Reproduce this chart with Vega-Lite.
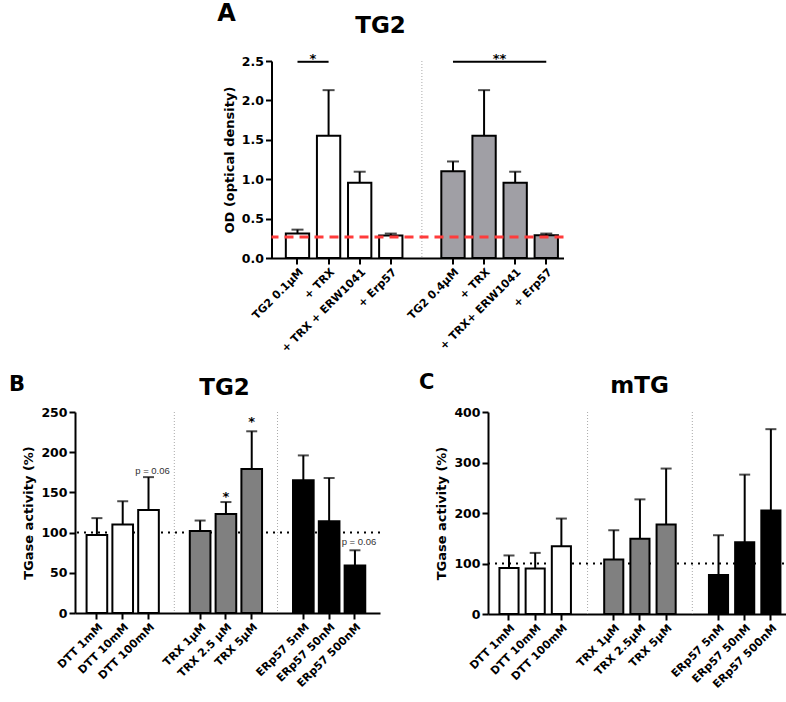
{
  "$schema": "https://vega.github.io/schema/vega-lite/v6.json",
  "background": "white",
  "padding": {"left": 8, "top": 2, "right": 2, "bottom": 2},
  "datasets": {
    "A": [
      {"cond": "TG2 0.1µM", "grp": "w", "v": 0.31, "e": 0.36},
      {"cond": "+ TRX", "grp": "w", "v": 1.55, "e": 2.13},
      {"cond": "+ TRX + ERW1041", "grp": "w", "v": 0.955, "e": 1.095},
      {"cond": "+ Erp57", "grp": "w", "v": 0.287, "e": 0.31},
      {"cond": "TG2 0.4µM", "grp": "g", "v": 1.10, "e": 1.225},
      {"cond": "+ TRX ", "grp": "g", "v": 1.55, "e": 2.13},
      {"cond": "+ TRX+ ERW1041", "grp": "g", "v": 0.955, "e": 1.095},
      {"cond": "+ Erp57 ", "grp": "g", "v": 0.29, "e": 0.31}
    ],
    "gapsA": [{"cond": "gapA"}],
    "refA": [{"od": 0.266}],
    "sigA": [
      {"from": "TG2 0.1µM", "to": "+ TRX", "y": 2.49, "at": "TG2 0.1µM", "lab": "*", "ty": 2.47},
      {"from": "TG2 0.4µM", "to": "+ Erp57 ", "y": 2.49, "at": "+ TRX ", "lab": "**", "ty": 2.47}
    ],
    "B": [
      {"cond": "DTT 1mM", "grp": "DTT", "v": 97, "e": 118},
      {"cond": "DTT 10mM", "grp": "DTT", "v": 110, "e": 139},
      {"cond": "DTT 100mM", "grp": "DTT", "v": 128, "e": 169},
      {"cond": "TRX 1µM", "grp": "TRX", "v": 102, "e": 115},
      {"cond": "TRX 2.5 µM", "grp": "TRX", "v": 123, "e": 138},
      {"cond": "TRX 5µM", "grp": "TRX", "v": 179, "e": 226},
      {"cond": "ERp57 5nM", "grp": "ERp57", "v": 165, "e": 196},
      {"cond": "ERp57 50nM", "grp": "ERp57", "v": 114, "e": 168},
      {"cond": "ERp57 500nM", "grp": "ERp57", "v": 59, "e": 78}
    ],
    "gapsBC": [{"cond": "g1"}, {"cond": "g2"}],
    "ref100": [{"pct": 100}],
    "starsB": [
      {"at": "TRX 2.5 µM", "ty": 139, "lab": "*"},
      {"at": "TRX 5µM", "ty": 233, "lab": "*"}
    ],
    "pB": [
      {"at": "DTT 100mM", "ty": 173, "lab": "p = 0.06"},
      {"at": "ERp57 500nM", "ty": 85, "lab": "p = 0.06"}
    ],
    "C": [
      {"cond": "DTT 1mM", "grp": "DTT", "v": 91, "e": 116},
      {"cond": "DTT 10mM", "grp": "DTT", "v": 90, "e": 121},
      {"cond": "DTT 100mM", "grp": "DTT", "v": 134, "e": 189},
      {"cond": "TRX 1µM", "grp": "TRX", "v": 108, "e": 166},
      {"cond": "TRX 2.5µM", "grp": "TRX", "v": 149, "e": 227},
      {"cond": "TRX 5µM", "grp": "TRX", "v": 177, "e": 288},
      {"cond": "ERp57 5nM", "grp": "ERp57", "v": 77, "e": 156},
      {"cond": "ERp57 50nM", "grp": "ERp57", "v": 142, "e": 276},
      {"cond": "ERp57 500nM", "grp": "ERp57", "v": 205, "e": 366}
    ]
  },
  "center": true,
  "spacing": 18,
  "resolve": {"scale": {"fill": "independent"}},
  "vconcat": [
    {
      "title": {"text": "A", "fontSize": 24, "anchor": "start", "offset": 0, "dy": 11, "dx": -6},
      "hconcat": [
        {
          "width": 292,
          "height": 197,
          "title": {"text": "TG2", "fontSize": 23, "anchor": "middle", "frame": "group", "dx": -37, "offset": 15},
          "resolve": {"axis": {"y": "independent"}},
          "layer": [
            {
              "data": {"name": "gapsA"},
              "mark": {"type": "rule", "color": "#aaaaaa", "strokeWidth": 1, "strokeDash": [1, 2]},
              "encoding": {
                "x": {"field": "cond", "type": "nominal", "title": null,
                  "scale": {"domain": ["TG2 0.1µM", "+ TRX", "+ TRX + ERW1041", "+ Erp57", "gapA", "TG2 0.4µM", "+ TRX ", "+ TRX+ ERW1041", "+ Erp57 "], "paddingInner": 0.25, "paddingOuter": 0.32, "align": 0.72},
                  "axis": {"values": ["TG2 0.1µM", "+ TRX", "+ TRX + ERW1041", "+ Erp57", "TG2 0.4µM", "+ TRX ", "+ TRX+ ERW1041", "+ Erp57 "], "labelExpr": "trim(datum.value)", "labelAngle": -45, "labelFontSize": 11, "title": null}}
              }
            },
            {
              "data": {"name": "A"},
              "mark": {"type": "bar", "stroke": "black", "strokeWidth": 2},
              "encoding": {
                "x": {"field": "cond", "type": "nominal", "title": null,
                  "scale": {"domain": ["TG2 0.1µM", "+ TRX", "+ TRX + ERW1041", "+ Erp57", "gapA", "TG2 0.4µM", "+ TRX ", "+ TRX+ ERW1041", "+ Erp57 "], "paddingInner": 0.25, "paddingOuter": 0.32, "align": 0.72}},
                "y": {"field": "v", "type": "quantitative", "scale": {"domain": [0, 2.5], "nice": false},
                  "axis": {"title": "OD (optical density)", "values": [0, 0.5, 1, 1.5, 2, 2.5], "format": ".1f", "labelOverlap": false}},
                "fill": {"field": "grp", "type": "nominal", "scale": {"domain": ["w", "g"], "range": ["white", "#a09fa5"]}, "legend": null}
              }
            },
            {
              "data": {"name": "A"},
              "mark": {"type": "rule", "color": "black", "strokeWidth": 2},
              "encoding": {
                "x": {"field": "cond", "type": "nominal", "title": null,
                  "scale": {"domain": ["TG2 0.1µM", "+ TRX", "+ TRX + ERW1041", "+ Erp57", "gapA", "TG2 0.4µM", "+ TRX ", "+ TRX+ ERW1041", "+ Erp57 "], "paddingInner": 0.25, "paddingOuter": 0.32, "align": 0.72}},
                "y": {"field": "v", "type": "quantitative", "axis": null},
                "y2": {"field": "e"}
              }
            },
            {
              "data": {"name": "A"},
              "mark": {"type": "tick", "color": "black", "thickness": 2, "size": 12, "orient": "horizontal"},
              "encoding": {
                "x": {"field": "cond", "type": "nominal", "title": null,
                  "scale": {"domain": ["TG2 0.1µM", "+ TRX", "+ TRX + ERW1041", "+ Erp57", "gapA", "TG2 0.4µM", "+ TRX ", "+ TRX+ ERW1041", "+ Erp57 "], "paddingInner": 0.25, "paddingOuter": 0.32, "align": 0.72}},
                "y": {"field": "e", "type": "quantitative", "axis": null}
              }
            },
            {
              "data": {"name": "refA"},
              "mark": {"type": "rule", "color": "#ff3b3b", "strokeWidth": 3, "strokeDash": [9, 6]},
              "encoding": {"y": {"field": "od", "type": "quantitative",
                "axis": {"orient": "right", "title": null, "labels": false, "ticks": false, "domain": false, "minExtent": 32, "maxExtent": 32}}}
            },
            {
              "data": {"name": "sigA"},
              "mark": {"type": "rule", "color": "black", "strokeWidth": 2},
              "encoding": {
                "x": {"field": "from", "type": "nominal", "title": null,
                  "scale": {"domain": ["TG2 0.1µM", "+ TRX", "+ TRX + ERW1041", "+ Erp57", "gapA", "TG2 0.4µM", "+ TRX ", "+ TRX+ ERW1041", "+ Erp57 "], "paddingInner": 0.25, "paddingOuter": 0.32, "align": 0.72}},
                "x2": {"field": "to"},
                "y": {"field": "y", "type": "quantitative", "axis": null}
              }
            },
            {
              "data": {"name": "sigA"},
              "mark": {"type": "text", "fontSize": 13, "fontWeight": "bold", "color": "black", "dx": 15.5, "baseline": "alphabetic"},
              "encoding": {
                "x": {"field": "at", "type": "nominal", "title": null,
                  "scale": {"domain": ["TG2 0.1µM", "+ TRX", "+ TRX + ERW1041", "+ Erp57", "gapA", "TG2 0.4µM", "+ TRX ", "+ TRX+ ERW1041", "+ Erp57 "], "paddingInner": 0.25, "paddingOuter": 0.32, "align": 0.72}},
                "y": {"field": "ty", "type": "quantitative", "axis": null},
                "text": {"field": "lab"}
              }
            }
          ]
        }
      ]
    },
    {
      "spacing": 37,
      "hconcat": [
        {
          "title": {"text": "B", "fontSize": 21, "anchor": "start", "offset": 0, "dy": 18, "dx": -14},
          "hconcat": [
            {
              "width": 305,
              "height": 201,
              "title": {"text": "TG2", "fontSize": 23, "anchor": "middle", "frame": "group", "offset": 6, "dx": -3},
              "layer": [
                {
                  "data": {"name": "ref100"},
                  "mark": {"type": "rule", "color": "black", "strokeWidth": 2, "strokeDash": [2, 5]},
                  "encoding": {"y": {"field": "pct", "type": "quantitative"}}
                },
                {
                  "data": {"name": "gapsBC"},
                  "mark": {"type": "rule", "color": "#aaaaaa", "strokeWidth": 1, "strokeDash": [1, 2]},
                  "encoding": {
                    "x": {"field": "cond", "type": "nominal", "title": null,
                      "scale": {"domain": ["DTT 1mM", "DTT 10mM", "DTT 100mM", "g1", "TRX 1µM", "TRX 2.5 µM", "TRX 5µM", "g2", "ERp57 5nM", "ERp57 50nM", "ERp57 500nM"], "paddingInner": 0.2, "paddingOuter": 0.51, "align": 0.44},
                      "axis": {"values": ["DTT 1mM", "DTT 10mM", "DTT 100mM", "TRX 1µM", "TRX 2.5 µM", "TRX 5µM", "ERp57 5nM", "ERp57 50nM", "ERp57 500nM"], "labelAngle": -45, "labelFontSize": 11, "title": null}}
                  }
                },
                {
                  "data": {"name": "B"},
                  "mark": {"type": "bar", "stroke": "black", "strokeWidth": 2},
                  "encoding": {
                    "x": {"field": "cond", "type": "nominal", "title": null,
                      "scale": {"domain": ["DTT 1mM", "DTT 10mM", "DTT 100mM", "g1", "TRX 1µM", "TRX 2.5 µM", "TRX 5µM", "g2", "ERp57 5nM", "ERp57 50nM", "ERp57 500nM"], "paddingInner": 0.2, "paddingOuter": 0.51, "align": 0.44}},
                    "y": {"field": "v", "type": "quantitative", "scale": {"domain": [0, 250], "nice": false},
                      "axis": {"title": "TGase activity (%)", "values": [0, 50, 100, 150, 200, 250], "labelOverlap": false}},
                    "fill": {"field": "grp", "type": "nominal", "scale": {"domain": ["DTT", "TRX", "ERp57"], "range": ["white", "#808080", "black"]}, "legend": null}
                  }
                },
                {
                  "data": {"name": "B"},
                  "mark": {"type": "rule", "color": "black", "strokeWidth": 2},
                  "encoding": {
                    "x": {"field": "cond", "type": "nominal", "title": null,
                      "scale": {"domain": ["DTT 1mM", "DTT 10mM", "DTT 100mM", "g1", "TRX 1µM", "TRX 2.5 µM", "TRX 5µM", "g2", "ERp57 5nM", "ERp57 50nM", "ERp57 500nM"], "paddingInner": 0.2, "paddingOuter": 0.51, "align": 0.44}},
                    "y": {"field": "v", "type": "quantitative"},
                    "y2": {"field": "e"}
                  }
                },
                {
                  "data": {"name": "B"},
                  "mark": {"type": "tick", "color": "black", "thickness": 2, "size": 11, "orient": "horizontal"},
                  "encoding": {
                    "x": {"field": "cond", "type": "nominal", "title": null,
                      "scale": {"domain": ["DTT 1mM", "DTT 10mM", "DTT 100mM", "g1", "TRX 1µM", "TRX 2.5 µM", "TRX 5µM", "g2", "ERp57 5nM", "ERp57 50nM", "ERp57 500nM"], "paddingInner": 0.2, "paddingOuter": 0.51, "align": 0.44}},
                    "y": {"field": "e", "type": "quantitative"}
                  }
                },
                {
                  "data": {"name": "starsB"},
                  "mark": {"type": "text", "fontSize": 13, "fontWeight": "bold", "color": "black", "baseline": "alphabetic"},
                  "encoding": {
                    "x": {"field": "at", "type": "nominal", "title": null,
                      "scale": {"domain": ["DTT 1mM", "DTT 10mM", "DTT 100mM", "g1", "TRX 1µM", "TRX 2.5 µM", "TRX 5µM", "g2", "ERp57 5nM", "ERp57 50nM", "ERp57 500nM"], "paddingInner": 0.2, "paddingOuter": 0.51, "align": 0.44}},
                    "y": {"field": "ty", "type": "quantitative"},
                    "text": {"field": "lab"}
                  }
                },
                {
                  "data": {"name": "pB"},
                  "mark": {"type": "text", "fontSize": 9.5, "font": "Liberation Sans", "color": "#333333", "baseline": "alphabetic", "dx": 4},
                  "encoding": {
                    "x": {"field": "at", "type": "nominal", "title": null,
                      "scale": {"domain": ["DTT 1mM", "DTT 10mM", "DTT 100mM", "g1", "TRX 1µM", "TRX 2.5 µM", "TRX 5µM", "g2", "ERp57 5nM", "ERp57 50nM", "ERp57 500nM"], "paddingInner": 0.2, "paddingOuter": 0.51, "align": 0.44}},
                    "y": {"field": "ty", "type": "quantitative"},
                    "text": {"field": "lab"}
                  }
                }
              ]
            }
          ]
        },
        {
          "title": {"text": "C", "fontSize": 21, "anchor": "start", "offset": 0, "dy": 18, "dx": -17},
          "hconcat": [
            {
              "width": 303,
              "height": 202,
              "title": {"text": "mTG", "fontSize": 23, "anchor": "middle", "frame": "group", "offset": 8},
              "layer": [
                {
                  "data": {"name": "ref100"},
                  "mark": {"type": "rule", "color": "black", "strokeWidth": 2, "strokeDash": [2, 5]},
                  "encoding": {"y": {"field": "pct", "type": "quantitative"}}
                },
                {
                  "data": {"name": "gapsBC"},
                  "mark": {"type": "rule", "color": "#aaaaaa", "strokeWidth": 1, "strokeDash": [1, 2]},
                  "encoding": {
                    "x": {"field": "cond", "type": "nominal", "title": null,
                      "scale": {"domain": ["DTT 1mM", "DTT 10mM", "DTT 100mM", "g1", "TRX 1µM", "TRX 2.5µM", "TRX 5µM", "g2", "ERp57 5nM", "ERp57 50nM", "ERp57 500nM"], "paddingInner": 0.27, "paddingOuter": 0.42, "align": 0.52},
                      "axis": {"values": ["DTT 1mM", "DTT 10mM", "DTT 100mM", "TRX 1µM", "TRX 2.5µM", "TRX 5µM", "ERp57 5nM", "ERp57 50nM", "ERp57 500nM"], "labelAngle": -45, "labelFontSize": 11, "title": null}}
                  }
                },
                {
                  "data": {"name": "C"},
                  "mark": {"type": "bar", "stroke": "black", "strokeWidth": 2},
                  "encoding": {
                    "x": {"field": "cond", "type": "nominal", "title": null,
                      "scale": {"domain": ["DTT 1mM", "DTT 10mM", "DTT 100mM", "g1", "TRX 1µM", "TRX 2.5µM", "TRX 5µM", "g2", "ERp57 5nM", "ERp57 50nM", "ERp57 500nM"], "paddingInner": 0.27, "paddingOuter": 0.42, "align": 0.52}},
                    "y": {"field": "v", "type": "quantitative", "scale": {"domain": [0, 400], "nice": false},
                      "axis": {"title": "TGase activity (%)", "values": [0, 100, 200, 300, 400], "labelOverlap": false}},
                    "fill": {"field": "grp", "type": "nominal", "scale": {"domain": ["DTT", "TRX", "ERp57"], "range": ["white", "#808080", "black"]}, "legend": null}
                  }
                },
                {
                  "data": {"name": "C"},
                  "mark": {"type": "rule", "color": "black", "strokeWidth": 2},
                  "encoding": {
                    "x": {"field": "cond", "type": "nominal", "title": null,
                      "scale": {"domain": ["DTT 1mM", "DTT 10mM", "DTT 100mM", "g1", "TRX 1µM", "TRX 2.5µM", "TRX 5µM", "g2", "ERp57 5nM", "ERp57 50nM", "ERp57 500nM"], "paddingInner": 0.27, "paddingOuter": 0.42, "align": 0.52}},
                    "y": {"field": "v", "type": "quantitative"},
                    "y2": {"field": "e"}
                  }
                },
                {
                  "data": {"name": "C"},
                  "mark": {"type": "tick", "color": "black", "thickness": 2, "size": 11, "orient": "horizontal"},
                  "encoding": {
                    "x": {"field": "cond", "type": "nominal", "title": null,
                      "scale": {"domain": ["DTT 1mM", "DTT 10mM", "DTT 100mM", "g1", "TRX 1µM", "TRX 2.5µM", "TRX 5µM", "g2", "ERp57 5nM", "ERp57 50nM", "ERp57 500nM"], "paddingInner": 0.27, "paddingOuter": 0.42, "align": 0.52}},
                    "y": {"field": "e", "type": "quantitative"}
                  }
                }
              ]
            }
          ]
        }
      ]
    }
  ],
  "config": {
    "font": "DejaVu Sans",
    "view": {"stroke": null},
    "axis": {
      "grid": false,
      "domainColor": "black",
      "domainWidth": 2,
      "tickColor": "black",
      "tickWidth": 2,
      "tickSize": 6,
      "labelColor": "black",
      "titleColor": "black",
      "labelFont": "DejaVu Sans",
      "titleFont": "DejaVu Sans",
      "labelFontWeight": "bold",
      "titleFontWeight": "bold"
    },
    "axisY": {"labelFontSize": 12.5, "titleFontSize": 13, "titlePadding": 5, "labelPadding": 2},
    "axisX": {"labelPadding": 2},
    "title": {"font": "DejaVu Sans", "fontWeight": "bold", "color": "black"}
  }
}
